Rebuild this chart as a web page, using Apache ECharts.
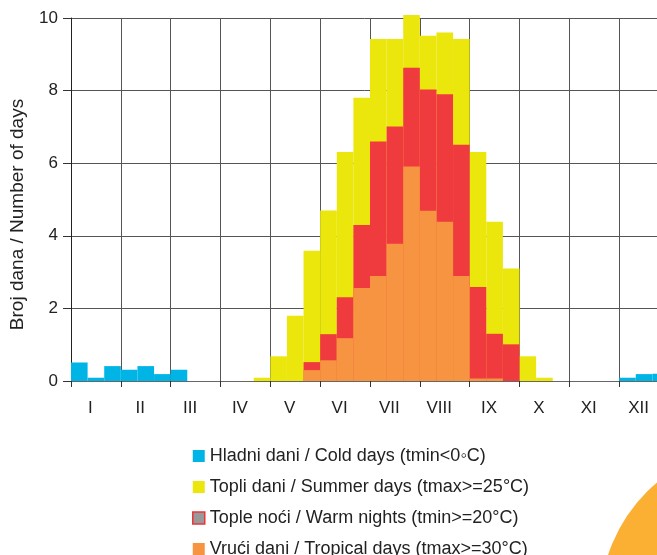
<!DOCTYPE html>
<html lang="en">
  <head>
    <meta charset="UTF-8" />
    <title>Broj dana / Number of days</title>
    <script src="https://cdn.jsdelivr.net/npm/echarts@6/dist/echarts.min.js"></script>
    <style>
      html, body { margin: 0; padding: 0; background: #fff; }
    </style>
  </head>
  <body>
    <div id="main" style="width: 657px; height: 555px"></div>
    <script type="text/javascript">
      // month labels and the three decades (dekade) of each month
      const months = ["I", "II", "III", "IV", "V", "VI", "VII", "VIII", "IX", "X", "XI", "XII"];
      const decades = [];
      months.forEach((m) => decades.push(m + "-1", m + "-2", m + "-3"));

      // values, one per decade (36)
      const coldDays = [
        0.51, 0.09, 0.41, 0.31, 0.41, 0.19, 0.31, 0, 0, 0, 0, 0,
        0, 0, 0, 0, 0, 0, 0, 0, 0, 0, 0, 0,
        0, 0, 0, 0, 0, 0, 0, 0, 0, 0.09, 0.19, 0.2
      ];
      const summerDays = [
        0, 0, 0, 0, 0, 0, 0, 0, 0, 0, 0, 0.09,
        0.68, 1.8, 3.59, 4.7, 6.31, 7.8, 9.42, 9.42, 10.08, 9.51, 9.6, 9.42,
        6.31, 4.39, 3.1, 0.68, 0.09, 0, 0, 0, 0, 0, 0, 0
      ];
      const warmNights = [
        0, 0, 0, 0, 0, 0, 0, 0, 0, 0, 0, 0,
        0, 0, 0.52, 1.29, 2.31, 4.3, 6.6, 7.01, 8.63, 8.03, 7.9, 6.51,
        2.59, 1.3, 1.01, 0, 0, 0, 0, 0, 0, 0, 0, 0
      ];
      const tropicalDays = [
        0, 0, 0, 0, 0, 0, 0, 0, 0, 0, 0, 0,
        0, 0, 0.3, 0.57, 1.18, 2.56, 2.89, 3.78, 5.91, 4.69, 4.39, 2.89,
        0.07, 0.07, 0, 0, 0, 0, 0, 0, 0, 0, 0, 0
      ];

      const names = [
        "Hladni dani / Cold days (tmin<0\u25E6C)",
        "Topli dani / Summer days (tmax>=25°C)",
        "Tople noći / Warm nights (tmin>=20°C)",
        "Vrući dani / Tropical days (tmax>=30°C)"
      ];

      const font = "'Liberation Sans', Arial, sans-serif";
      let myChart = echarts.init(document.getElementById("main"));

      function bar(name, data, color) {
        return {
          name: name,
          type: "bar",
          data: data,
          xAxisIndex: 0,
          barGap: "-100%",
          barCategoryGap: "0%",
          clip: false,
          itemStyle: { color: color },
          emphasis: { disabled: true }
        };
      }

      let options = {
        animation: false,
        textStyle: { fontFamily: font },
        // the plot runs past the right edge of the picture
        grid: { left: 71, top: 18, width: 598, height: 363, outerBoundsMode: "none", containLabel: false },
        graphic: [
          {
            type: "circle",
            shape: { cx: 760, cy: 605, r: 160 },
            style: { fill: "#fbb034" },
            z: -1
          }
        ],
        legend: {
          orient: "vertical",
          left: 192,
          top: 447,
          height: 140,
          padding: 0,
          itemWidth: 12,
          itemHeight: 12,
          itemGap: 13,
          icon: "rect",
          selectedMode: false,
          textStyle: { fontSize: 18, color: "#222", fontFamily: font },
          data: [
            { name: names[0] },
            { name: names[1] },
            { name: names[2], itemStyle: { color: "#999", borderColor: "#e8373c", borderWidth: 1.5 } },
            { name: names[3] }
          ]
        },
        xAxis: [
          { type: "category", data: decades, show: false },
          {
            type: "category",
            data: months,
            position: "bottom",
            axisLine: { show: true, lineStyle: { color: "#666", width: 1 } },
            axisTick: { show: true, length: 6, lineStyle: { color: "#333" } },
            splitLine: { show: true, interval: 0, lineStyle: { color: "#555", width: 1 } },
            axisLabel: {
              interval: 0,
              fontSize: 17,
              color: "#222",
              margin: 19,
              padding: [0, 11, 0, 0]
            }
          }
        ],
        yAxis: {
          type: "value",
          min: 0,
          max: 10,
          interval: 2,
          name: "Broj dana / Number of days",
          nameLocation: "middle",
          nameGap: 44,
          nameTextStyle: { fontSize: 19, color: "#222", padding: [0, 30, 0, 0] },
          axisLine: { show: true, lineStyle: { color: "#222" } },
          axisTick: { show: true, length: 8, lineStyle: { color: "#333" } },
          axisLabel: { fontSize: 17, color: "#222", margin: 13 },
          splitLine: { show: true, lineStyle: { color: "#555", width: 1 } }
        },
        series: [
          bar(names[0], coldDays, "#00b5e6"),
          bar(names[1], summerDays, "#ebe60c"),
          bar(names[2], warmNights, "#ef3a3e"),
          bar(names[3], tropicalDays, "#f69441")
        ]
      };

      myChart.setOption(options);
    </script>
  </body>
</html>
